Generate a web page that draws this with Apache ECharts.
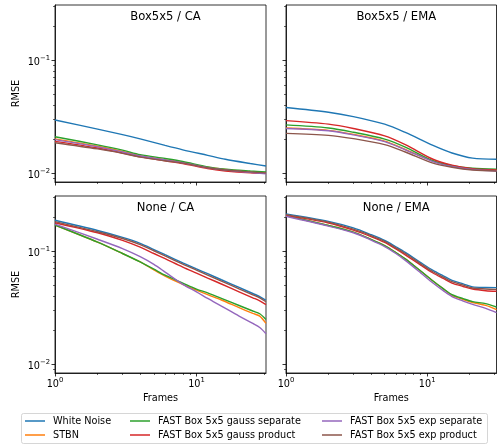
<!DOCTYPE html>
<html><head><meta charset="utf-8">
<script src="https://cdn.jsdelivr.net/npm/echarts@6/dist/echarts.min.js"></script>
<style>html,body{margin:0;padding:0;background:#fff}#c{width:497px;height:447px}</style>
</head><body><div id="c"></div>
<script>
// ---------- data ----------
const seriesNames = ['White Noise','STBN','FAST Box 5x5 gauss separate','FAST Box 5x5 gauss product','FAST Box 5x5 exp separate','FAST Box 5x5 exp product'];
const panelTitles = ['Box5x5 / CA','Box5x5 / EMA','None / CA','None / EMA'];

// Box5x5 / CA
const framesBoxCA = [1,2,3,4,6,8,12,16,24,31];
const boxCA_white  = [0.0294,0.0244,0.0218,0.0200,0.0175,0.0160,0.0143,0.0132,0.0121,0.0115];
const boxCA_stbn   = [0.0200,0.0172,0.0155,0.0142,0.0131,0.0124,0.0112,0.0107,0.0102,0.0099];
const boxCA_gsep   = [0.0209,0.0177,0.0159,0.0145,0.0134,0.0126,0.0113,0.0108,0.0104,0.0102];
const boxCA_gprod  = [0.0190,0.0166,0.0150,0.0139,0.0128,0.0121,0.0109,0.0104,0.0100,0.0099];
const boxCA_esep   = [0.0197,0.0170,0.0153,0.0141,0.0130,0.0123,0.0111,0.0106,0.0101,0.0098];
const boxCA_eprod  = [0.0185,0.0163,0.0149,0.0138,0.0128,0.0122,0.0111,0.0106,0.0102,0.0100];

// Box5x5 / EMA
const framesBoxEMA = [1,2,3,5,7,11,15,21,31];
const boxEMA_white = [0.0379,0.0344,0.0315,0.0270,0.0228,0.0175,0.0150,0.0135,0.0132];
const boxEMA_stbn  = [0.0250,0.0238,0.0219,0.0191,0.0161,0.0127,0.0115,0.0108,0.0105];
const boxEMA_gsep  = [0.0266,0.0250,0.0229,0.0199,0.0169,0.0128,0.0116,0.0110,0.0108];
const boxEMA_gprod = [0.0290,0.0270,0.0247,0.0213,0.0178,0.0132,0.0117,0.0109,0.0106];
const boxEMA_esep  = [0.0247,0.0236,0.0217,0.0189,0.0160,0.0126,0.0114,0.0107,0.0104];
const boxEMA_eprod = [0.0224,0.0215,0.0201,0.0178,0.0153,0.0122,0.0112,0.0106,0.0104];

// None / CA
const framesNoneCA = [1,2,3,4,5,6,8,10,12,15,20,25,28,31];
const noneCA_white = [0.187,0.152,0.132,0.117,0.103,0.0927,0.0786,0.0695,0.0629,0.0556,0.0475,0.0420,0.0395,0.0366];
const noneCA_stbn  = [0.170,0.1197,0.095,0.080,0.068,0.060,0.0507,0.045,0.041,0.0368,0.0315,0.0280,0.0265,0.0228];
const noneCA_gsep  = [0.170,0.1197,0.095,0.080,0.069,0.061,0.052,0.046,0.0425,0.038,0.0329,0.0294,0.0278,0.0247];
const noneCA_gprod = [0.178,0.145,0.124,0.108,0.095,0.0855,0.072,0.0637,0.0576,0.051,0.0435,0.0385,0.0362,0.0335];
const noneCA_esep  = [0.173,0.127,0.105,0.089,0.076,0.065,0.0507,0.0435,0.038,0.0325,0.0265,0.0228,0.021,0.0185];
const noneCA_eprod = [0.182,0.148,0.129,0.114,0.1005,0.0903,0.0765,0.0677,0.0612,0.0541,0.0462,0.0409,0.0384,0.0355];

// None / EMA
const framesNoneEMA = [1,2,3,4,5,6,7,9,11,13,15,18,21,26,31];
const noneEMA_white = [0.213,0.183,0.160,0.1396,0.124,0.109,0.0973,0.079,0.0673,0.0603,0.055,0.0511,0.0481,0.0475,0.0474];
const noneEMA_stbn  = [0.205,0.168,0.147,0.127,0.1116,0.097,0.0852,0.0664,0.0542,0.0462,0.0405,0.0372,0.035,0.033,0.0303];
const noneEMA_gsep  = [0.205,0.168,0.147,0.127,0.1116,0.097,0.0852,0.0664,0.0542,0.0464,0.041,0.0378,0.0356,0.0342,0.0319];
const noneEMA_gprod = [0.2066,0.177,0.153,0.134,0.119,0.1043,0.0925,0.0750,0.0638,0.0571,0.0520,0.0485,0.0460,0.0445,0.0440];
const noneEMA_esep  = [0.203,0.166,0.145,0.125,0.1095,0.095,0.0825,0.064,0.052,0.0445,0.0395,0.036,0.0336,0.031,0.0284];
const noneEMA_eprod = [0.210,0.180,0.156,0.1368,0.1215,0.1067,0.0950,0.0770,0.0655,0.0587,0.0535,0.0498,0.0470,0.0461,0.0457];

const xMinorTicks = [2,3,4,5,6,7,8,9,20,30];
const yMinorTicks = [0.009,0.02,0.03,0.04,0.05,0.06,0.07,0.08,0.09,0.2,0.3];
const xMajorTicks = [1,10];
const yMajorTicks = [0.01,0.1];
// -------------------------

const colors = ['#1f77b4','#ff7f0e','#2ca02c','#d62728','#9467bd','#8c564b'];
const panels = [
  {frames: framesBoxCA, vals: [boxCA_white,boxCA_stbn,boxCA_gsep,boxCA_gprod,boxCA_esep,boxCA_eprod]},
  {frames: framesBoxEMA, vals: [boxEMA_white,boxEMA_stbn,boxEMA_gsep,boxEMA_gprod,boxEMA_esep,boxEMA_eprod]},
  {frames: framesNoneCA, vals: [noneCA_white,noneCA_stbn,noneCA_gsep,noneCA_gprod,noneCA_esep,noneCA_eprod]},
  {frames: framesNoneEMA, vals: [noneEMA_white,noneEMA_stbn,noneEMA_gsep,noneEMA_gprod,noneEMA_esep,noneEMA_eprod]}
];
const FONT = 'DejaVu Sans';
const XMIN = 1, XMAX = 31, YMIN = 0.0083, YMAX = 0.307;
const gridPos = [
  {left:55, top:5, width:211, height:177},
  {left:286, top:5, width:210.5, height:177},
  {left:55, top:196, width:211, height:177},
  {left:286, top:196, width:210.5, height:177}
];
function powLabel(v){
  const e = Math.round(Math.log10(v));
  if (Math.abs(v - Math.pow(10,e)) > 1e-6*v) return '';
  return '{b|10}{s|' + (e<0?'\u2212':'') + Math.abs(e) + '}';
}
const rich = {
  b:{fontSize:9.7, fontFamily:FONT, color:'#000', lineHeight:10, padding:[5,0,0,0]},
  s:{fontSize:6.8, fontFamily:FONT, color:'#000', lineHeight:8, verticalAlign:'top'}
};
const grids=[], xAxes=[], yAxes=[], series=[], titles=[];
for (let g=0; g<4; g++){
  grids.push(Object.assign({show:true, borderColor:'#000', borderWidth:0.8, backgroundColor:'transparent'}, gridPos[g]));
  const bottomRow = g>=2, leftCol = (g%2)===0;
  titles.push({text:panelTitles[g], left:gridPos[g].left+gridPos[g].width/2, top:gridPos[g].top+1, textAlign:'center',
    textStyle:{fontFamily:FONT, fontSize:11.6, fontWeight:'normal', color:'#000'}});
  xAxes.push({type:'log', logBase:10, gridIndex:g, min:XMIN, max:XMAX, position:'bottom',
    axisLine:{show:true, lineStyle:{color:'#000', width:0.8}},
    axisTick:{show:true, length:3.5, lineStyle:{color:'#000', width:0.8}, customValues:xMajorTicks},
    axisLabel:{show:bottomRow, margin:4, formatter:powLabel, rich:rich, customValues:xMajorTicks},
    splitLine:{show:false},
    name: bottomRow ? 'Frames' : '', nameLocation:'middle', nameGap:20,
    nameTextStyle:{fontFamily:FONT, fontSize:9.7, color:'#000'}});
  xAxes.push({type:'log', logBase:10, gridIndex:g, min:XMIN, max:XMAX, position:'bottom',
    axisLine:{show:false}, axisLabel:{show:false}, splitLine:{show:false},
    axisTick:{show:true, length:2, lineStyle:{color:'#000', width:0.6}, customValues:xMinorTicks}});
  yAxes.push({type:'log', logBase:10, gridIndex:g, min:YMIN, max:YMAX, position:'left',
    axisLine:{show:true, lineStyle:{color:'#000', width:0.8}},
    axisTick:{show:true, length:3.5, lineStyle:{color:'#000', width:0.8}, customValues:yMajorTicks},
    axisLabel:{show:leftCol, margin:5, formatter:powLabel, rich:rich, customValues:yMajorTicks},
    splitLine:{show:false},
    name: leftCol ? 'RMSE' : '', nameLocation:'middle', nameGap:34, nameRotate:90,
    nameTextStyle:{fontFamily:FONT, fontSize:9.7, color:'#000'}});
  yAxes.push({type:'log', logBase:10, gridIndex:g, min:YMIN, max:YMAX, position:'left',
    axisLine:{show:false}, axisLabel:{show:false}, splitLine:{show:false},
    axisTick:{show:true, length:2, lineStyle:{color:'#000', width:0.6}, customValues:yMinorTicks}});
  const p = panels[g];
  for (let s=0; s<6; s++){
    series.push({type:'line', name:seriesNames[s], xAxisIndex:2*g, yAxisIndex:2*g,
      data: p.frames.map((f,i)=>[f, p.vals[s][i]]),
      showSymbol:false, symbol:'none', smooth:0.3, clip:true,
      lineStyle:{color:colors[s], width:1.4}, itemStyle:{color:colors[s]}, z:2+s, animation:false});
  }
}
const legendCommon = {orient:'vertical', icon:'rect', itemWidth:20, itemHeight:1.5, itemGap:2, padding:0,
  height:40, top:415,
  textStyle:{fontFamily:FONT, fontSize:9.7, color:'#000', lineHeight:12, padding:[0,0,0,3]}};
const legends = [
  Object.assign({left:25, data:[seriesNames[0],seriesNames[1]]}, legendCommon),
  Object.assign({left:130, data:[seriesNames[2],seriesNames[3]]}, legendCommon),
  Object.assign({left:322, data:[seriesNames[4],seriesNames[5]]}, legendCommon)
];
const chart = echarts.init(document.getElementById('c'), null, {renderer:'canvas'});
chart.setOption({
  animation:false, color:colors, title:titles, grid:grids, xAxis:xAxes, yAxis:yAxes, series:series, legend:legends,
  graphic:[{type:'rect', shape:{x:21.5, y:413.5, width:466, height:30, r:2}, style:{fill:'#fff', stroke:'#cccccc', lineWidth:0.8}, z:-1}]
});
</script></body></html>
